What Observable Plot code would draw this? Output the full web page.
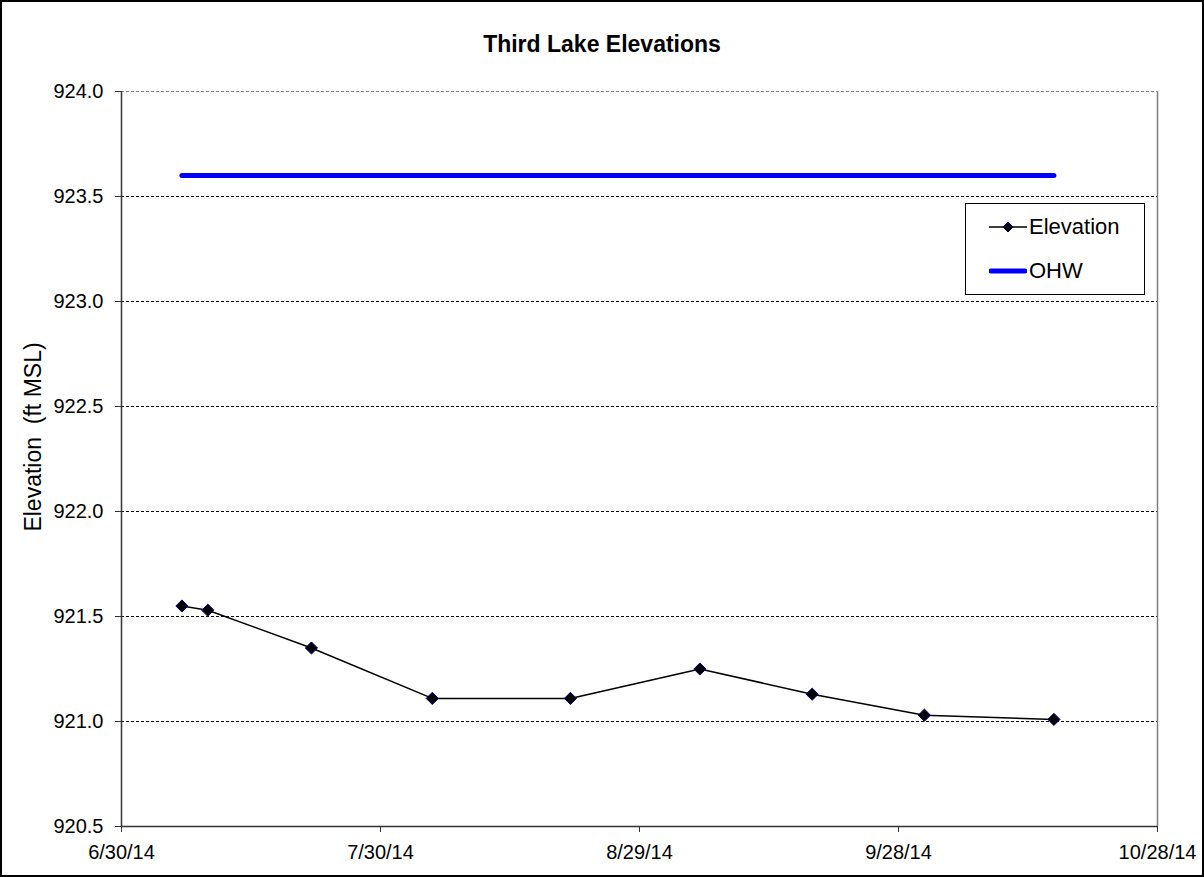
<!DOCTYPE html>
<html>
<head>
<meta charset="utf-8">
<script src="https://cdn.jsdelivr.net/npm/d3@7"></script>
<script src="https://cdn.jsdelivr.net/npm/@observablehq/plot@0.6"></script>
<style>
  html, body { margin: 0; padding: 0; background: #fff; overflow: hidden; }
  #page { position: relative; width: 1204px; height: 877px; font-family: "Liberation Sans", Arial, sans-serif; color: #000; }
  #border { position: absolute; left: 0; top: 0; width: 1204px; height: 877px; box-sizing: border-box; border: 2px solid #000; pointer-events: none; }
  #title { position: absolute; left: 0; width: 1204px; top: 31px; text-align: center; font-weight: bold; font-size: 23px; }
  #ylabel { position: absolute; left: 33px; top: 437px; transform: translate(-50%, -50%) rotate(-90deg); font-size: 23px; white-space: pre; }
  #chart { position: absolute; left: 0; top: 0; }
  #legend { position: absolute; left: 965px; top: 203px; width: 180px; height: 92px; box-sizing: border-box; border: 1.5px solid #000; background: #fff; font-size: 22px; }
  .item { position: absolute; left: 0; height: 30px; display: flex; align-items: center; }
  .item svg { display: block; margin-left: 23px; margin-right: 2px; }
</style>
</head>
<body>
<div id="page">
  <div id="chart"></div>
  <div id="title">Third Lake Elevations</div>
  <div id="ylabel">Elevation  (ft MSL)</div>
  <div id="legend">
    <div class="item" style="top: 8px;">
      <svg width="38" height="14"><line x1="0" y1="7" x2="38" y2="7" stroke="#000" stroke-width="1.5"/><path d="M19,2 L24,7 L19,12 L14,7 Z" fill="#000" stroke="#000080" stroke-width="1"/></svg>
      <span>Elevation</span>
    </div>
    <div class="item" style="top: 52px;">
      <svg width="38" height="14"><line x1="2" y1="7" x2="36" y2="7" stroke="#0000ff" stroke-width="5" stroke-linecap="round"/></svg>
      <span>OHW</span>
    </div>
  </div>
  <div id="border"></div>
</div>
<script>
// Survey dates and measured lake elevations (ft MSL)
const surveyDates = ["2014-07-07", "2014-07-10", "2014-07-22", "2014-08-05", "2014-08-21", "2014-09-05", "2014-09-18", "2014-10-01", "2014-10-16"];
const elevations = [921.55, 921.53, 921.35, 921.11, 921.11, 921.25, 921.13, 921.03, 921.01];

// Ordinary high water level
const ohwLevel = 923.6;

// Axis ticks
const xTickDates = ["2014-06-30", "2014-07-30", "2014-08-29", "2014-09-28", "2014-10-28"];
const yTickValues = [920.5, 921.0, 921.5, 922.0, 922.5, 923.0, 923.5, 924.0];

const parse = d3.utcParse("%Y-%m-%d");
const elevData = surveyDates.map((d, i) => ({date: parse(d), value: elevations[i]}));
const ohwData = [
  {date: parse(surveyDates[0]), value: ohwLevel},
  {date: parse(surveyDates[surveyDates.length - 1]), value: ohwLevel}
];
const xTicks = xTickDates.map(parse);
const xDomain = [xTicks[0], xTicks[xTicks.length - 1]];
const yDomain = [yTickValues[0], yTickValues[yTickValues.length - 1]];

const chart = Plot.plot({
  width: 1204,
  height: 877,
  marginLeft: 121,
  marginRight: 47,
  marginTop: 91,
  marginBottom: 51,
  style: {fontFamily: "'Liberation Sans', Arial, sans-serif", fontSize: "20px", color: "#000", background: "transparent", overflow: "visible"},
  x: {type: "utc", domain: xDomain},
  y: {domain: yDomain},
  marks: [
    // dashed horizontal gridlines
    Plot.ruleY(yTickValues.slice(1, -1), {stroke: "#000", strokeWidth: 1, strokeDasharray: "3,2"}),
    Plot.ruleY([yDomain[1]], {stroke: "#808080", strokeWidth: 1, strokeDasharray: "3,2"}),
    // plot area edges
    Plot.ruleX([xDomain[1]], {stroke: "#808080", strokeWidth: 1.5}),
    Plot.ruleX([xDomain[0]], {stroke: "#333", strokeWidth: 1.5}),
    Plot.ruleY([yDomain[0]], {stroke: "#333", strokeWidth: 1.5}),
    Plot.axisX({ticks: xTicks, tickFormat: d3.utcFormat("%-m/%-d/%y"), tickSize: 6, tickPadding: 12, label: null, stroke: "#333", fontSize: 20}),
    Plot.axisY({ticks: yTickValues, tickFormat: d => d.toFixed(1), tickSize: 6, tickPadding: 12, label: null, stroke: "#333", fontSize: 20}),
    // OHW reference level
    Plot.line(ohwData, {x: "date", y: "value", stroke: "#0000ff", strokeWidth: 5}),
    // measured elevations
    Plot.line(elevData, {x: "date", y: "value", stroke: "#000", strokeWidth: 1.5}),
    Plot.dot(elevData, {x: "date", y: "value", symbol: "diamond2", r: 5.5, fill: "#000", stroke: "#000080", strokeWidth: 1})
  ]
});
document.getElementById("chart").appendChild(chart);
</script>
</body>
</html>
